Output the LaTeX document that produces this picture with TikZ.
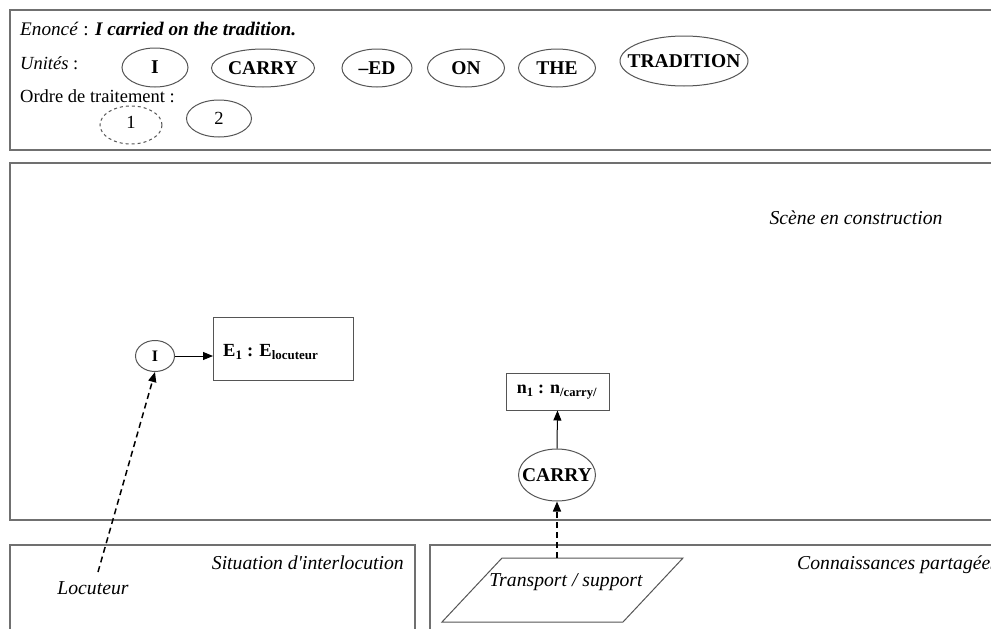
\documentclass[tikz,border=0pt]{standalone}
\usepackage{fontspec}
\setmainfont{Liberation Serif}
\usetikzlibrary{shapes.geometric,arrows.meta}
\definecolor{boxgray}{HTML}{707070}
\definecolor{ellgray}{HTML}{555555}
\tikzset{
  panel/.style={draw=boxgray,line width=1.3pt},
  unit/.style={draw=ellgray,ellipse,line width=1pt,inner xsep=-30pt,inner ysep=-10pt,font=\fontsize{19.5}{21}\selectfont\bfseries},
  ordre/.style={draw=ellgray,ellipse,line width=1pt,inner xsep=-30pt,inner ysep=-10pt,font=\fontsize{18.5}{20}\selectfont},
  lbl/.style={inner sep=0pt,font=\fontsize{18.5}{22}\selectfont},
  ilbl/.style={inner sep=0pt,font=\fontsize{19.7}{22}\selectfont\itshape},
  rect/.style={draw=ellgray,line width=1pt,inner sep=0pt},
  arr/.style={-{Triangle[length=10pt,width=8pt]},line width=1pt},
  darr/.style={-{Triangle[length=10pt,width=8pt]},line width=1.5pt,dash pattern=on 6pt off 4pt}
}
\begin{document}
\begin{tikzpicture}[x=1pt,y=-1pt]
\useasboundingbox[fill=white] (0,0) rectangle (991,629);
% panels
\draw[panel] (991,10) -- (10,10) -- (10,150) -- (991,150);
\draw[panel] (991,163) -- (10,163) -- (10,520) -- (991,520);
\draw[panel] (10,629) -- (10,545) -- (415,545) -- (415,629);
\draw[panel] (430,629) -- (430,545) -- (991,545);
% top panel
\node[lbl,font=\fontsize{19.2}{22}\selectfont,anchor=base west] (enonce) at (20,35) {\textit{Enoncé} : \textbf{\textit{I carried on the tradition.}}};
\node[lbl,anchor=base west] (unites) at (20,69) {\textit{Unités} :};
\node[lbl,anchor=base west] (ordre) at (20,102) {Ordre de traitement :};
\node[unit,minimum width=66pt,minimum height=39pt] (uI) at (155,67.5) {I};
\node[unit,minimum width=103pt,minimum height=38pt] (uCARRY) at (263,68) {CARRY};
\node[unit,minimum width=70pt,minimum height=38pt] (uED) at (377,68) {--ED};
\node[unit,minimum width=77pt,minimum height=38pt] (uON) at (466,68) {ON};
\node[unit,minimum width=77pt,minimum height=38pt] (uTHE) at (557,68) {THE};
\node[unit,minimum width=128pt,minimum height=50pt] (uTRAD) at (684,61) {TRADITION};
\node[ordre,dashed,minimum width=62pt,minimum height=38pt] (o1) at (131,125) {\raisebox{6pt}{1}};
\node[ordre,minimum width=65pt,minimum height=37pt] (o2) at (219,118.5) {2};
% middle panel
\node[ilbl] (scene) at (856,218) {Scène en construction};
\node[unit,minimum width=39pt,minimum height=31pt,font=\fontsize{16}{18}\selectfont\bfseries] (nI) at (155,356) {I};
\node[rect,minimum width=140pt,minimum height=63pt,anchor=west] (E1) at (213,348.5) {};
\node[anchor=west,inner sep=0pt,font=\fontsize{18.5}{20}\selectfont\bfseries] (E1t) at (223,352) {E\textsubscript{1} : E\textsubscript{locuteur}};
\node[rect,minimum width=103pt,minimum height=37pt] (n1) at (557.5,391.5) {};
\node[inner sep=0pt,font=\fontsize{18}{20}\selectfont\bfseries] (n1t) at (557,392) {n\textsubscript{1} : n\textsubscript{/carry/}};
\node[unit,minimum width=77pt,minimum height=52pt] (nCARRY) at (557,475) {CARRY};
\draw[arr] (nI.east) -- (E1.west |- nI.east);
\draw[arr] (nCARRY.north) -- (n1.south);
% bottom panels
\node[ilbl,anchor=base east] (situ) at (404,569) {Situation d\textquotesingle interlocution};
\node[ilbl,anchor=base west] (conn) at (797,569) {Connaissances partagées};
\node[ilbl] (loc) at (93,588) {Locuteur};
\coordinate (locTop) at (98,572);
\draw[darr] (locTop) -- (nI.south);
\draw[line width=1pt,draw=ellgray] (502,558) -- (683,558) -- (623,622) -- (442,622) -- cycle;
\node[ilbl] (trans) at (566,582) {Transport / support};
\coordinate (transTop) at (557,558);
\draw[darr] (transTop) -- (nCARRY.south);
\end{tikzpicture}
\end{document}
